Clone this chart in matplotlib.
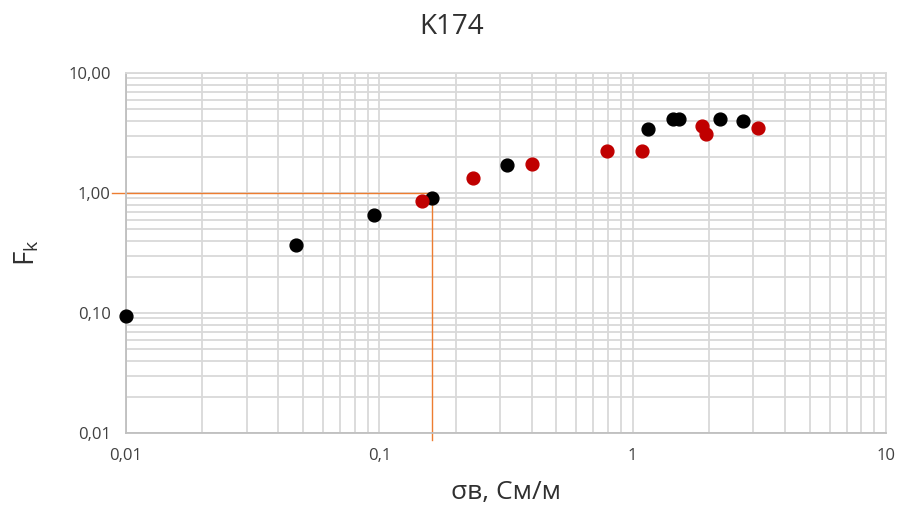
import matplotlib.pyplot as plt
from matplotlib.ticker import FixedLocator, LogLocator, NullFormatter

plt.rcParams['font.family'] = ['Open Sans', 'DejaVu Sans']

# black series
black_x = [0.01, 0.047, 0.095, 0.161, 0.319, 1.15, 1.45, 1.52, 2.21, 2.73]
black_y = [0.094, 0.37, 0.65, 0.91, 1.71, 3.4, 4.1, 4.1, 4.1, 3.98]

# red series
red_x = [0.148, 0.234, 0.401, 0.79, 1.09, 1.88, 1.95, 3.13]
red_y = [0.85, 1.33, 1.74, 2.24, 2.24, 3.6, 3.1, 3.48]

# guide lines at Fk = 1
guide_x = 0.161
guide_y = 1.0

x_ticks = [0.01, 0.1, 1, 10]
x_labels = ['0,01', '0,1', '1', '10']
y_ticks = [0.01, 0.1, 1, 10]
y_labels = ['0,01', '0,10', '1,00', '10,00']

fig = plt.figure(figsize=(9.03, 5.14), dpi=100)
ax = fig.add_axes([0.1395, 0.1576, 0.8415, 0.7004])
ax.set_xscale('log')
ax.set_yscale('log')
ax.set_xlim(0.01, 10)
ax.set_ylim(0.01, 10)

grid_c = '#D9D9D9'
ax.xaxis.set_major_locator(FixedLocator(x_ticks))
ax.yaxis.set_major_locator(FixedLocator(y_ticks))
ax.xaxis.set_minor_locator(LogLocator(base=10, subs=range(2, 10)))
ax.yaxis.set_minor_locator(LogLocator(base=10, subs=range(2, 10)))
ax.xaxis.set_minor_formatter(NullFormatter())
ax.yaxis.set_minor_formatter(NullFormatter())
ax.set_xticklabels(x_labels)
ax.set_yticklabels(y_labels)
ax.grid(True, which='both', color=grid_c, linewidth=1.3)
ax.set_axisbelow(True)
ax.tick_params(which='both', length=0, labelsize=12, colors='#404040', pad=11)
for s in ax.spines.values():
    s.set_color(grid_c)
    s.set_linewidth(1.3)
ax.spines['left'].set_color('#BFBFBF')
ax.spines['bottom'].set_color('#BFBFBF')

orange = '#ED7D31'
ax.plot([0.0088, guide_x], [guide_y, guide_y], color=orange, linewidth=1, clip_on=False, zorder=2)
ax.plot([guide_x, guide_x], [guide_y, 0.0087], color=orange, linewidth=1, clip_on=False, zorder=2)

ax.scatter(black_x, black_y, s=85, color='black', zorder=3, clip_on=False)
ax.scatter(red_x, red_y, s=85, color='#C00000', zorder=3, clip_on=False)

fig.suptitle('K174', x=0.5, y=0.975, fontsize=20, color='#303030')
ax.set_xlabel('σв, См/м', fontsize=19, color='#303030', labelpad=11)
ax.set_ylabel(r'$\mathregular{F_k}$', fontsize=20, color='#303030', labelpad=19)

fig.savefig('out.png', dpi=100)
